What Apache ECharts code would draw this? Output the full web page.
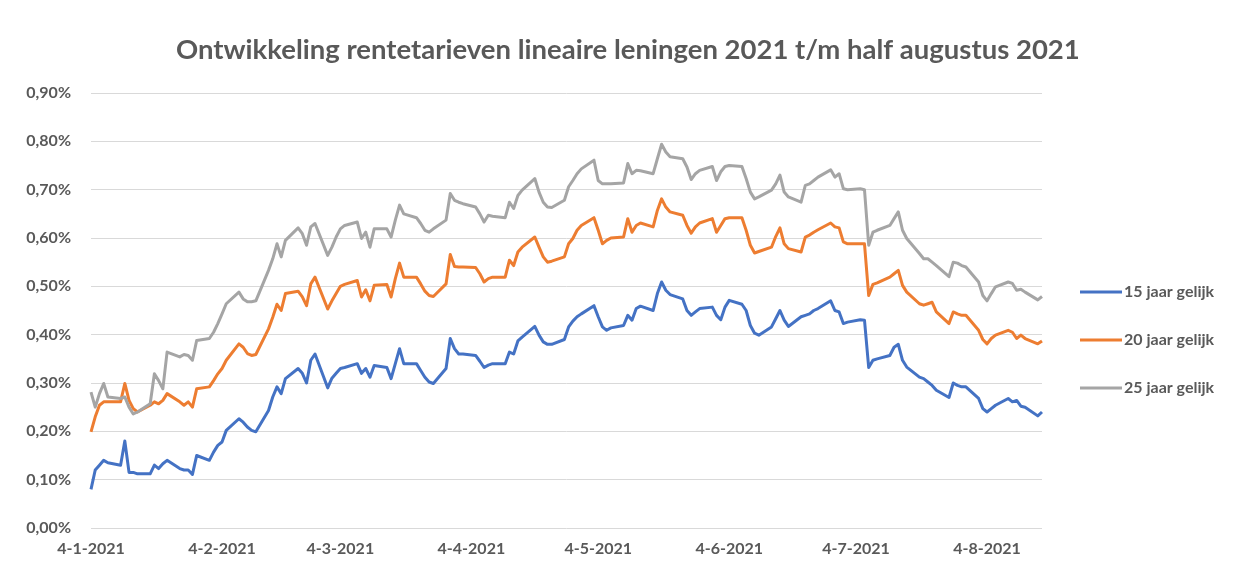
<!DOCTYPE html>
<html><head><meta charset="utf-8">
<script src="https://cdn.jsdelivr.net/npm/echarts@6/dist/echarts.min.js"></script>
<style>html,body{margin:0;padding:0;background:#fff}#c{width:1235px;height:574px}</style>
</head><body><div id="c"></div>
<script>
const dates = [
'2021-01-04','2021-01-05','2021-01-06','2021-01-07','2021-01-08',
'2021-01-11','2021-01-12','2021-01-13','2021-01-14','2021-01-15',
'2021-01-18','2021-01-19','2021-01-20','2021-01-21','2021-01-22',
'2021-01-25','2021-01-26','2021-01-27','2021-01-28','2021-01-29',
'2021-02-01','2021-02-02','2021-02-03','2021-02-04','2021-02-05',
'2021-02-08','2021-02-09','2021-02-10','2021-02-11','2021-02-12',
'2021-02-15','2021-02-16','2021-02-17','2021-02-18','2021-02-19',
'2021-02-22','2021-02-23','2021-02-24','2021-02-25','2021-02-26',
'2021-03-01','2021-03-02','2021-03-03','2021-03-04','2021-03-05',
'2021-03-08','2021-03-09','2021-03-10','2021-03-11','2021-03-12',
'2021-03-15','2021-03-16','2021-03-17','2021-03-18','2021-03-19',
'2021-03-22','2021-03-23','2021-03-24','2021-03-25','2021-03-26',
'2021-03-29','2021-03-30','2021-03-31','2021-04-01','2021-04-02',
'2021-04-05','2021-04-06','2021-04-07','2021-04-08','2021-04-09',
'2021-04-12','2021-04-13','2021-04-14','2021-04-15','2021-04-16',
'2021-04-19','2021-04-20','2021-04-21','2021-04-22','2021-04-23',
'2021-04-26','2021-04-27','2021-04-28','2021-04-29','2021-04-30',
'2021-05-03','2021-05-04','2021-05-05','2021-05-06','2021-05-07',
'2021-05-10','2021-05-11','2021-05-12','2021-05-13','2021-05-14',
'2021-05-17','2021-05-18','2021-05-19','2021-05-20','2021-05-21',
'2021-05-24','2021-05-25','2021-05-26','2021-05-27','2021-05-28',
'2021-05-31','2021-06-01','2021-06-02','2021-06-03','2021-06-04',
'2021-06-07','2021-06-08','2021-06-09','2021-06-10','2021-06-11',
'2021-06-14','2021-06-15','2021-06-16','2021-06-17','2021-06-18',
'2021-06-21','2021-06-22','2021-06-23','2021-06-24','2021-06-25',
'2021-06-28','2021-06-29','2021-06-30','2021-07-01','2021-07-02',
'2021-07-05','2021-07-06','2021-07-07','2021-07-08','2021-07-09',
'2021-07-12','2021-07-13','2021-07-14','2021-07-15','2021-07-16',
'2021-07-19','2021-07-20','2021-07-21','2021-07-22','2021-07-23',
'2021-07-26','2021-07-27','2021-07-28','2021-07-29','2021-07-30',
'2021-08-02','2021-08-03','2021-08-04','2021-08-05','2021-08-06',
'2021-08-09','2021-08-10','2021-08-11','2021-08-12','2021-08-13',
'2021-08-16','2021-08-17'
];
const rente15 = [
0.08,0.12,0.13,0.14,0.135, 0.13,0.18,0.115,0.115,0.112, 0.112,0.13,0.123,0.133,0.14, 0.123,0.12,0.12,0.111,0.15,
0.14,0.157,0.171,0.178,0.202, 0.226,0.219,0.209,0.202,0.199, 0.243,0.271,0.292,0.278,0.309, 0.33,0.32,0.30,0.347,0.36,
0.29,0.31,0.32,0.33,0.332, 0.34,0.32,0.33,0.312,0.336, 0.332,0.309,0.34,0.371,0.34, 0.34,0.326,0.312,0.302,0.299,
0.33,0.392,0.371,0.36,0.36, 0.357,0.345,0.332,0.337,0.34, 0.34,0.364,0.36,0.387,0.395, 0.417,0.399,0.385,0.38,0.38,
0.39,0.416,0.428,0.437,0.443, 0.46,0.437,0.416,0.409,0.414, 0.419,0.44,0.43,0.454,0.459, 0.45,0.485,0.509,0.492,0.483,
0.474,0.45,0.44,0.447,0.454, 0.457,0.44,0.431,0.457,0.471, 0.463,0.45,0.419,0.403,0.399, 0.416,0.433,0.45,0.43,0.417,
0.437,0.44,0.443,0.45,0.454, 0.47,0.45,0.447,0.423,0.426, 0.431,0.43,0.332,0.347,0.35, 0.357,0.374,0.38,0.347,0.333,
0.312,0.309,0.302,0.295,0.285, 0.27,0.30,0.295,0.292,0.292, 0.268,0.247,0.24,0.247,0.254, 0.268,0.261,0.264,0.252,0.25,
0.232,0.24
];
const rente20 = [
0.199,0.23,0.254,0.261,0.261, 0.261,0.299,0.264,0.247,0.24, 0.254,0.261,0.257,0.264,0.278, 0.261,0.254,0.261,0.25,0.288,
0.292,0.305,0.319,0.33,0.347, 0.381,0.374,0.361,0.357,0.359, 0.412,0.436,0.463,0.45,0.485, 0.49,0.478,0.46,0.505,0.519,
0.453,0.47,0.485,0.50,0.504, 0.512,0.478,0.493,0.47,0.502, 0.504,0.478,0.516,0.548,0.519, 0.519,0.505,0.49,0.481,0.479,
0.505,0.566,0.541,0.54,0.54, 0.539,0.526,0.509,0.516,0.519, 0.519,0.554,0.543,0.571,0.581, 0.602,0.581,0.561,0.55,0.552,
0.561,0.588,0.599,0.616,0.626, 0.642,0.616,0.588,0.595,0.60, 0.602,0.64,0.612,0.626,0.631, 0.623,0.657,0.681,0.664,0.654,
0.647,0.626,0.61,0.623,0.631, 0.64,0.612,0.626,0.64,0.642, 0.642,0.616,0.585,0.569,0.572, 0.581,0.603,0.621,0.588,0.578,
0.571,0.602,0.606,0.612,0.617, 0.631,0.623,0.621,0.592,0.588, 0.588,0.588,0.481,0.504,0.507, 0.519,0.526,0.533,0.502,0.488,
0.464,0.461,0.464,0.467,0.447, 0.423,0.447,0.443,0.44,0.44, 0.409,0.39,0.381,0.392,0.399, 0.409,0.405,0.392,0.399,0.392,
0.381,0.387
];
const rente25 = [
0.281,0.25,0.278,0.299,0.271, 0.268,0.271,0.25,0.236,0.24, 0.257,0.319,0.305,0.288,0.364, 0.354,0.359,0.357,0.347,0.388,
0.392,0.405,0.423,0.443,0.464, 0.488,0.474,0.468,0.468,0.47, 0.533,0.557,0.588,0.561,0.595, 0.621,0.609,0.585,0.623,0.63,
0.564,0.581,0.602,0.619,0.626, 0.633,0.599,0.612,0.581,0.619, 0.619,0.602,0.637,0.668,0.65, 0.642,0.63,0.616,0.612,0.619,
0.637,0.692,0.678,0.674,0.671, 0.664,0.65,0.633,0.647,0.645, 0.642,0.674,0.661,0.688,0.699, 0.723,0.695,0.674,0.664,0.663,
0.678,0.706,0.719,0.733,0.743, 0.761,0.719,0.712,0.712,0.712, 0.714,0.754,0.733,0.74,0.739, 0.733,0.764,0.794,0.778,0.768,
0.764,0.747,0.721,0.733,0.74, 0.748,0.719,0.737,0.748,0.75, 0.748,0.723,0.695,0.681,0.685, 0.699,0.712,0.73,0.695,0.685,
0.674,0.709,0.712,0.719,0.726, 0.741,0.726,0.733,0.702,0.70, 0.702,0.70,0.585,0.612,0.616, 0.626,0.64,0.654,0.616,0.599,
0.568,0.557,0.557,0.55,0.543, 0.52,0.55,0.548,0.543,0.54, 0.509,0.481,0.47,0.485,0.499, 0.509,0.506,0.492,0.494,0.488,
0.472,0.479
];
const seriesNames = ['15 jaar gelijk','20 jaar gelijk','25 jaar gelijk'];
const tickDates = ['2021-01-04','2021-02-04','2021-03-04','2021-04-04','2021-05-04','2021-06-04','2021-07-04','2021-08-04'];
const titleText = 'Ontwikkeling rentetarieven lineaire leningen 2021 t/m half augustus 2021';

const FONT = 'Lato, "Liberation Sans", sans-serif';
const DAY = 86400000;
function ts(s){const p=s.split('-');return Date.UTC(+p[0],+p[1]-1,+p[2]);}
const t0 = ts(dates[0]);
function dayIdx(s){return Math.round((ts(s)-t0)/DAY);}
function pairs(vals){return dates.map((d,i)=>[dayIdx(d),vals[i]]);}
function fmtDay(v){const d=new Date(t0+v*DAY);return d.getUTCDate()+'-'+(d.getUTCMonth()+1)+'-'+d.getUTCFullYear();}
const colors = ['#4472C4','#ED7D31','#A5A5A5'];
const chart = echarts.init(document.getElementById('c'));
chart.setOption({
  animation:false,
  backgroundColor:'#fff',
  color:colors,
  title:{text:titleText,left:171,top:31,
    textStyle:{fontFamily:FONT,fontSize:27.5,fontWeight:'bold',color:'#595959'}},
  legend:{orient:'vertical',left:1075,top:279,itemWidth:42,itemHeight:3,itemGap:32,icon:'rect',
    textStyle:{fontFamily:FONT,fontSize:16,fontWeight:'bold',color:'#595959',padding:[0,0,0,-3]},
    data:seriesNames},
  grid:{left:91,right:193,top:93,bottom:46,containLabel:false},
  xAxis:{type:'value',min:0,max:dayIdx(dates[dates.length-1]),
    axisLine:{show:false},axisTick:{show:false},splitLine:{show:false},
    axisLabel:{customValues:tickDates.map(dayIdx),fontFamily:FONT,fontSize:16,fontWeight:'bold',color:'#595959',margin:13,
      hideOverlap:false,formatter:fmtDay}},
  yAxis:{type:'value',min:0,max:0.9,interval:0.1,
    axisLine:{show:false},axisTick:{show:false},
    splitLine:{lineStyle:{color:'#D9D9D9',width:1}},
    axisLabel:{fontFamily:FONT,fontSize:16,fontWeight:'bold',color:'#595959',margin:20,
      formatter:function(v){return v.toFixed(2).replace('.',',')+'%';}}},
  series:seriesNames.map((n,i)=>({name:n,type:'line',symbol:'none',
    data:pairs([rente15,rente20,rente25][i]),
    lineStyle:{width:3,color:colors[i],join:'round'}}))
});
</script></body></html>
